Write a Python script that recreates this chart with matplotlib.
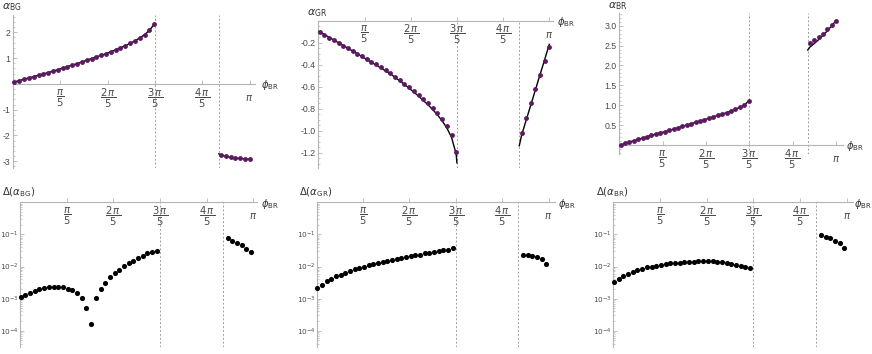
import numpy as np
import matplotlib
matplotlib.use("Agg")
import matplotlib.pyplot as plt
from matplotlib.ticker import FixedLocator, NullFormatter, MultipleLocator, LogLocator

plt.rcParams['font.family'] = ['Liberation Sans', 'DejaVu Sans']
plt.rcParams['mathtext.fontset'] = 'dejavusans'
plt.rcParams['axes.unicode_minus'] = False

PI = np.pi
# ---------------- data ----------------
phi_c = 0.87 * PI                      # position of the second dashed line
phi_top1 = np.linspace(0.006, 0.597, 30) * PI
phi_top2 = np.array([0.88, 0.90, 0.92, 0.94, 0.96, 0.98, 1.00]) * PI
phi_bot1 = np.linspace(0.003, 0.586, 30) * PI
phi_bot2 = np.array([0.89, 0.91, 0.93, 0.95, 0.97, 0.99]) * PI

aBG_pts1 = [0.077, 0.129, 0.181, 0.232, 0.284, 0.335, 0.387, 0.439, 0.490, 0.555,
            0.606, 0.671, 0.729, 0.787, 0.852, 0.916, 0.981, 1.045, 1.110, 1.174,
            1.250, 1.320, 1.400, 1.480, 1.570, 1.670, 1.780, 1.910, 2.070, 2.320]
aBG_pts2 = [-2.761, -2.813, -2.852, -2.877, -2.890, -2.903, -2.916]
aBG_line1_start = 0.06
aBG_line2_start = -2.71

aGR_pts1 = [-0.103, -0.128, -0.153, -0.177, -0.202, -0.226, -0.250, -0.274, -0.299, -0.323,
            -0.348, -0.373, -0.398, -0.424, -0.450, -0.479, -0.510, -0.541, -0.573, -0.606,
            -0.641, -0.675, -0.715, -0.753, -0.793, -0.843, -0.895, -0.958, -1.039, -1.193]
aGR_pts2 = [-1.020, -0.886, -0.753, -0.625, -0.495, -0.371, -0.243]
aGR_line1 = [-0.098, -0.100, -0.126, -0.151, -0.176, -0.201, -0.226, -0.251, -0.276, -0.301,
             -0.327, -0.352, -0.378, -0.404, -0.430, -0.456, -0.483, -0.515, -0.547, -0.580,
             -0.614, -0.650, -0.686, -0.725, -0.765, -0.808, -0.856, -0.910, -0.975, -1.060,
             -1.215, -1.293]
aGR_line2 = [-1.138, -1.042, -0.904, -0.766, -0.628, -0.490, -0.353, -0.215]

aBR_pts1 = [-0.010, 0.043, 0.075, 0.108, 0.143, 0.176, 0.209, 0.244, 0.276, 0.309,
            0.334, 0.369, 0.402, 0.435, 0.470, 0.503, 0.535, 0.570, 0.603, 0.636,
            0.671, 0.704, 0.746, 0.779, 0.812, 0.854, 0.897, 0.947, 0.997, 1.106]
aBR_pts2 = [2.555, 2.630, 2.706, 2.797, 2.907, 3.015, 3.123]
aBR_line1_start = -0.02
aBR_line2 = [2.387, 2.460, 2.550, 2.645, 2.750, 2.865, 2.990, 3.125]

# log10 of the relative deviations
dBG_log1 = [-2.94, -2.89, -2.81, -2.75, -2.71, -2.67, -2.65, -2.64, -2.63, -2.64,
            -2.70, -2.74, -2.83, -2.99, -3.29, -3.79, -2.99, -2.70, -2.51, -2.33,
            -2.20, -2.10, -1.99, -1.90, -1.82, -1.75, -1.66, -1.59, -1.55, -1.53]
dBG_log2 = [-1.11, -1.20, -1.26, -1.32, -1.44, -1.54]
dGR_log1 = [-2.67, -2.56, -2.46, -2.39, -2.31, -2.25, -2.19, -2.14, -2.08, -2.04,
            -2.00, -1.96, -1.92, -1.89, -1.85, -1.82, -1.79, -1.76, -1.73, -1.70,
            -1.68, -1.65, -1.63, -1.59, -1.57, -1.54, -1.52, -1.50, -1.47, -1.41]
dGR_log2 = [-1.63, -1.64, -1.66, -1.70, -1.77, -1.91]
dBR_log1 = [-2.48, -2.39, -2.30, -2.23, -2.17, -2.11, -2.07, -2.03, -2.00, -1.97,
            -1.94, -1.92, -1.90, -1.89, -1.88, -1.86, -1.85, -1.85, -1.84, -1.84,
            -1.84, -1.84, -1.85, -1.86, -1.89, -1.91, -1.94, -1.97, -2.00, -2.04]
dBR_log2 = [-1.02, -1.07, -1.12, -1.20, -1.28, -1.41]

xtick_vals = [1, 2, 3, 4, 5]
xtick_labels = [r"$\dfrac{\pi}{5}$", r"$\dfrac{2\,\pi}{5}$", r"$\dfrac{3\,\pi}{5}$",
                r"$\dfrac{4\,\pi}{5}$", r"$\pi$"]

# ---------------- styling ----------------
W, H = 872, 354
fig = plt.figure(figsize=(W / 100, H / 100), dpi=100)
AX_C = '#b4b4b4'
TXT_C = '#4a4a4a'
PURPLE = '#5c1a60'
TFS = 6.3


def rect(l, r, t, b):
    return [l / W, 1 - b / H, (r - l) / W, (b - t) / H]


def style(ax, yaxis_at, ylabel, log=False, xlab_off=3):
    for s in ('top', 'right'):
        ax.spines[s].set_visible(False)
    ax.spines['left'].set_position(('data', 0))
    ax.spines['bottom'].set_position(('data', yaxis_at))
    for s in ('left', 'bottom'):
        ax.spines[s].set_color(AX_C)
        ax.spines[s].set_linewidth(0.8)
    ax.patch.set_alpha(0)
    ax.xaxis.set_major_locator(FixedLocator([k * PI / 5 for k in xtick_vals]))
    ax.xaxis.set_major_formatter(NullFormatter())
    ax.tick_params(axis='both', which='major', direction='in', length=3, width=0.6,
                   color=AX_C, labelsize=TFS, labelcolor=TXT_C, pad=2)
    ax.tick_params(axis='both', which='minor', direction='in', length=1.6, width=0.5,
                   color=AX_C)
    for k, lab in zip(xtick_vals, xtick_labels):
        ax.annotate(lab, xy=(k * PI / 5, yaxis_at), xycoords='data',
                    xytext=(0, -10.2), textcoords='offset points',
                    ha='center', va='center', fontsize=7.2, color=TXT_C,
                    annotation_clip=False)
    ax.annotate(r"$\phi_{\rm BR}$", xy=(1, yaxis_at), xycoords=('axes fraction', 'data'),
                xytext=(xlab_off, -1), textcoords='offset points', ha='left', va='center',
                fontsize=7.2, color='#333333', annotation_clip=False)
    ax.annotate(ylabel, xy=(0, 1), xycoords=('data', 'axes fraction'),
                xytext=(-1.0, 5.5 if not log else 7.5), textcoords='offset points',
                ha='center', va='center', fontsize=7.8 if not log else 7.3,
                color='#333333', annotation_clip=False)
    for xv in (3 * PI / 5, phi_c):
        ax.axvline(xv, color='#a0a0a0', lw=0.7, ls=(0, (2, 2)), zorder=1)


def dots(ax, x, y, color, ms):
    ax.plot(x, y, 'o', color=color, ms=ms, mec='none', zorder=4, clip_on=False)


# ---- top left: alpha_BG ----
ax = fig.add_axes(rect(13, 255, 15, 168))
ax.set_xlim(0, 1.023 * PI)
ax.set_ylim(-3.26, 2.67)
style(ax, 0, r"$\alpha_{\rm BG}$", xlab_off=4)
ax.yaxis.set_major_locator(FixedLocator([-3, -2, -1, 1, 2]))
ax.set_yticklabels(['-3', '-2', '-1', '1', '2'])
ax.yaxis.set_minor_locator(MultipleLocator(0.2))
ax.plot(np.r_[0, phi_top1], np.r_[aBG_line1_start, aBG_pts1], color='k', lw=1.0, zorder=3)
ax.plot(np.r_[phi_c, phi_top2], np.r_[aBG_line2_start, aBG_pts2], color='k', lw=1.0, zorder=3)
dots(ax, phi_top1, aBG_pts1, PURPLE, 3.5)
dots(ax, phi_top2, aBG_pts2, PURPLE, 3.5)

# ---- top middle: alpha_GR ----
ax = fig.add_axes(rect(318.3, 553, 20.7, 168))
ax.set_xlim(0, 1.016 * PI)
ax.set_ylim(-1.34, 0)
style(ax, 0, r"$\alpha_{\rm GR}$")
yt = [-1.2, -1.0, -0.8, -0.6, -0.4, -0.2]
ax.yaxis.set_major_locator(FixedLocator(yt))
ax.set_yticklabels(['%.1f' % v for v in yt])
ax.yaxis.set_minor_locator(MultipleLocator(0.05))
ax.plot(np.r_[0, phi_top1, 0.6 * PI], aGR_line1, color='k', lw=1.0, zorder=3)
ax.plot(np.r_[phi_c, phi_top2], aGR_line2, color='k', lw=1.0, zorder=3)
dots(ax, phi_top1, aGR_pts1, PURPLE, 3.5)
dots(ax, phi_top2, aGR_pts2, PURPLE, 3.5)

# ---- top right: alpha_BR ----
ax = fig.add_axes(rect(619.3, 843, 13.3, 154))
ax.set_xlim(0, 1.033 * PI)
ax.set_ylim(-0.226, 3.31)
style(ax, 0, r"$\alpha_{\rm BR}$", xlab_off=2.5)
yt = [0.5, 1.0, 1.5, 2.0, 2.5, 3.0]
ax.yaxis.set_major_locator(FixedLocator(yt))
ax.set_yticklabels(['%.1f' % v for v in yt])
ax.yaxis.set_minor_locator(MultipleLocator(0.1))
ax.plot(np.r_[0, phi_top1], np.r_[aBR_line1_start, aBR_pts1], color='k', lw=1.0, zorder=3)
ax.plot(np.r_[phi_c, phi_top2], aBR_line2, color='k', lw=1.0, zorder=3)
dots(ax, phi_top1, aBR_pts1, PURPLE, 3.5)
dots(ax, phi_top2, aBR_pts2, PURPLE, 3.5)

# ---- bottom row: deviations (log scale) ----
bottom = [
    (20, 257, 1.015, r"$\Delta(\alpha_{\rm BG})$", dBG_log1, dBG_log2, 3),
    (316.7, 555, 1.028, r"$\Delta(\alpha_{\rm GR})$", dGR_log1, dGR_log2, 2.5),
    (613.3, 853, 1.027, r"$\Delta(\alpha_{\rm BR})$", dBR_log1, dBR_log2, 0.8),
]
for l, r, xr, lab, d1, d2, xo in bottom:
    ax = fig.add_axes(rect(l, r, 202.3, 346.8))
    ax.set_yscale('log')
    ax.set_xlim(0, xr * PI)
    ax.set_ylim(10 ** -4.5, 1.0)
    style(ax, 1.0, lab, log=True, xlab_off=xo)
    ax.yaxis.set_major_locator(FixedLocator([1e-4, 1e-3, 1e-2, 1e-1]))
    ax.set_yticklabels([r"$10^{-4}$", r"$10^{-3}$", r"$10^{-2}$", r"$10^{-1}$"])
    ax.tick_params(axis='y', which='major', labelsize=5.3, pad=1.0)
    ax.yaxis.set_minor_locator(LogLocator(base=10, subs=np.arange(2, 10)))
    ax.yaxis.set_minor_formatter(NullFormatter())
    dots(ax, phi_bot1, 10 ** np.array(d1), 'black', 3.7)
    dots(ax, phi_bot2, 10 ** np.array(d2), 'black', 3.7)

fig.savefig('out.png', dpi=100)
